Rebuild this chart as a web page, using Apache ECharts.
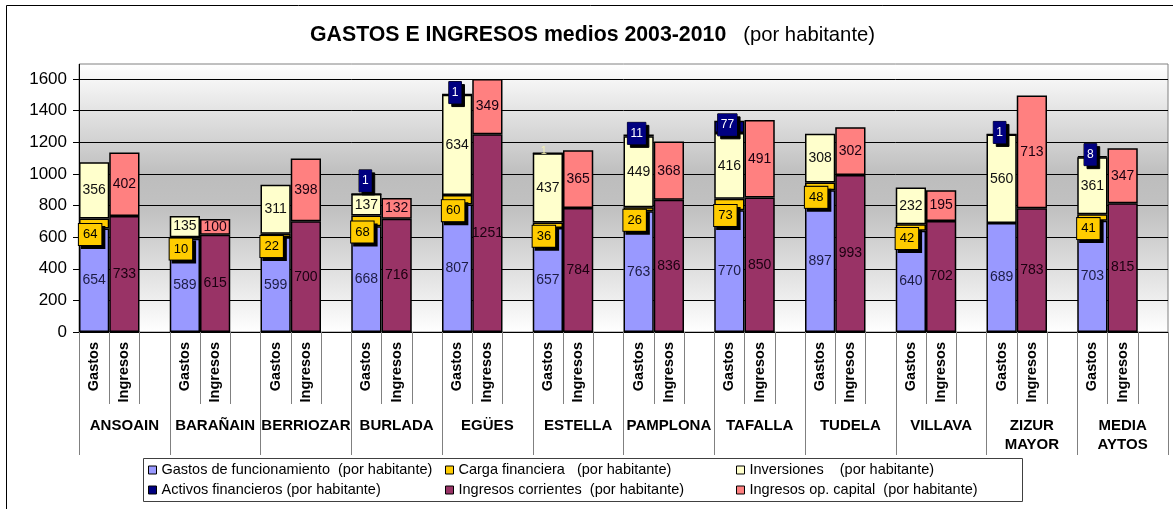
<!DOCTYPE html>
<html>
<head>
<meta charset="utf-8">
<script src="https://cdn.jsdelivr.net/npm/echarts@6/dist/echarts.min.js"></script>
<style>
html,body{margin:0;padding:0;background:#fff;}
#chart{width:1173px;height:509px;}
</style>
</head>
<body>
<div id="chart"></div>
<script>
// ---- data ----
const cities = ['ANSOAIN','BARAÑAIN','BERRIOZAR','BURLADA','EGÜES','ESTELLA','PAMPLONA','TAFALLA','TUDELA','VILLAVA','ZIZUR\nMAYOR','MEDIA\nAYTOS'];
const subLabels = ['Gastos','Ingresos',''];
const funcionamiento = [654,589,599,668,807,657,763,770,897,640,689,703];
const carga = [64,10,22,68,60,36,26,73,48,42,null,41];
const inversiones = [356,135,311,137,634,437,449,416,308,232,560,361];
const activos = [null,null,null,1,1,1,11,77,null,null,1,8];
const corrientes = [733,615,700,716,1251,784,836,850,993,702,783,815];
const opCapital = [402,100,398,132,349,365,368,491,302,195,713,347];
const yMin = 0, yMax = 1600, yInterval = 200;
const seriesNames = [
  'Gastos de funcionamiento  (por habitante)',
  'Carga financiera   (por habitante)',
  'Inversiones    (por habitante)',
  'Activos financieros (por habitante)',
  'Ingresos corrientes  (por habitante)',
  'Ingresos op. capital  (por habitante)'
];
const colors = ['#9999ff','#ffcc00','#ffffcc','#000080','#993366','#ff8080'];

// ---- build slot arrays ----
const slots = [];
cities.forEach(() => subLabels.forEach(s => slots.push(s)));
function onSlot(arr, k) {
  const out = [];
  arr.forEach(v => { for (let j = 0; j < 3; j++) out.push(j === k ? v : null); });
  return out;
}
const FONT = 'Liberation Sans, Arial, sans-serif';
const border = {borderColor:'#000', borderWidth:1.5};
function baseLabel(color) {
  return {show:true, position:'inside', fontSize:14, fontFamily:FONT, color:color};
}
const boxShadow = {shadowColor:'#000', shadowOffsetX:3, shadowOffsetY:3, shadowBlur:0};

// special label placement for some activos labels
const activosData = onSlot(activos, 0).map((v, idx) => {
  if (v == null) return v;
  const city = cities[Math.floor(idx / 3)];
  if (city === 'BURLADA') return {value:v, label:{offset:[-1,-13]}};
  if (city === 'ESTELLA') return {value:v, label:{backgroundColor:'transparent', borderWidth:0, shadowColor:'transparent', color:'#f4f0b0', fontSize:11, offset:[-4,-2]}};
  return v;
});

const series = [
  {name:seriesNames[0], data:onSlot(funcionamiento,0), itemStyle:Object.assign({color:colors[0]},border), label:baseLabel('#1c1c44')},
  {name:seriesNames[1], data:onSlot(carga,0), itemStyle:Object.assign({color:colors[1]},border),
    label:Object.assign({show:true, position:'inside', offset:[-4,11], fontSize:13, fontFamily:FONT, color:'#000',
      backgroundColor:'#ffcc00', borderColor:'#000', borderWidth:1, padding:[4,4,3,4], lineHeight:14}, boxShadow)},
  {name:seriesNames[2], data:onSlot(inversiones,0), itemStyle:Object.assign({color:colors[2]},border), label:baseLabel('#111')},
  {name:seriesNames[3], data:activosData, itemStyle:Object.assign({color:colors[3]},border),
    label:Object.assign({show:true, position:'inside', offset:[-2,-2], fontSize:12, fontFamily:FONT, color:'#fff',
      backgroundColor:'#000080', borderColor:'#000', borderWidth:0.5, padding:[5,3,4,3], lineHeight:13}, boxShadow)},
  {name:seriesNames[4], data:onSlot(corrientes,1), itemStyle:Object.assign({color:colors[4]},border), label:baseLabel('#1a0010')},
  {name:seriesNames[5], data:onSlot(opCapital,1), itemStyle:Object.assign({color:colors[5]},border), label:baseLabel('#1a0010')}
].map(s => Object.assign({type:'bar', stack:'t', xAxisIndex:0, yAxisIndex:0, barCategoryGap:'0%', barGap:'0%'}, s));

const legendCommon = {
  orient:'vertical', itemWidth:8, itemHeight:8, itemGap:4, icon:'rect', padding:0,
  itemStyle:{borderColor:'#000', borderWidth:1},
  textStyle:{fontSize:14.5, fontFamily:FONT, color:'#000', lineHeight:16},
  selectedMode:false, z:5
};

const chart = echarts.init(document.getElementById('chart'), null, {renderer:'canvas'});
chart.setOption({
  animation:false,
  backgroundColor:'#fff',
  title:{
    left:310, top:23, padding:0,
    text:'{b|GASTOS E INGRESOS medios 2003-2010}{n|   (por habitante)}',
    textStyle:{rich:{
      b:{fontSize:21.3, fontWeight:'bold', fontFamily:FONT, color:'#000', lineHeight:24},
      n:{fontSize:20.3, fontWeight:'normal', fontFamily:FONT, color:'#000', lineHeight:24}
    }}
  },
  grid:{left:79, right:5, top:79, bottom:177, containLabel:false},
  graphic:[
    {type:'rect', z:-10, shape:{x:6.5, y:5.5, width:1300, height:700}, style:{fill:'#fff', stroke:'#000', lineWidth:1}},
    {type:'rect', z:-5, shape:{x:79, y:64, width:1089, height:268},
      style:{fill:new echarts.graphic.LinearGradient(0,0,0,1,[
        {offset:0,color:'#ffffff'},{offset:0.42,color:'#bdbdbd'},{offset:0.55,color:'#c2c2c2'},{offset:1,color:'#ffffff'}]),
        stroke:'#808080', lineWidth:1}},
    {type:'line', z:-4, shape:{x1:79.5, y1:64, x2:79.5, y2:80}, style:{stroke:'#000', lineWidth:1}},
    {type:'rect', z:3, shape:{x:143.5, y:458.5, width:879, height:43}, style:{fill:'#fff', stroke:'#404040', lineWidth:1}}
  ],
  legend:[
    Object.assign({left:148, top:462, data:[seriesNames[0], seriesNames[3]]}, legendCommon),
    Object.assign({left:445, top:462, data:[seriesNames[1], seriesNames[4]]}, legendCommon),
    Object.assign({left:736, top:462, data:[seriesNames[2], seriesNames[5]]}, legendCommon)
  ],
  xAxis:[
    {type:'category', data:slots, position:'bottom', boundaryGap:true,
      axisLine:{show:true, lineStyle:{color:'#000', width:1}},
      axisTick:{show:true, interval:0, length:72, lineStyle:{color:'#808080', width:1}},
      axisLabel:{interval:0, rotate:90, margin:10, fontSize:14.5, fontWeight:'bold', fontFamily:FONT, color:'#000'},
      splitLine:{show:false}},
    {type:'category', data:cities, position:'bottom', boundaryGap:true,
      axisLine:{show:false},
      axisTick:{show:true, interval:0, length:123, lineStyle:{color:'#808080', width:1}},
      axisLabel:{interval:0, margin:84, fontSize:15, fontWeight:'bold', fontFamily:FONT, color:'#000', lineHeight:19},
      splitLine:{show:false}}
  ],
  yAxis:{type:'value', min:yMin, max:yMax, interval:yInterval,
    axisLine:{show:true, lineStyle:{color:'#000', width:1}},
    axisTick:{show:true, length:6, lineStyle:{color:'#000'}},
    axisLabel:{margin:12, fontSize:17, fontFamily:FONT, color:'#000', formatter:(v) => String(v)},
    splitLine:{show:true, lineStyle:{color:'#000', width:1}}},
  series:series
});
</script>
</body>
</html>
